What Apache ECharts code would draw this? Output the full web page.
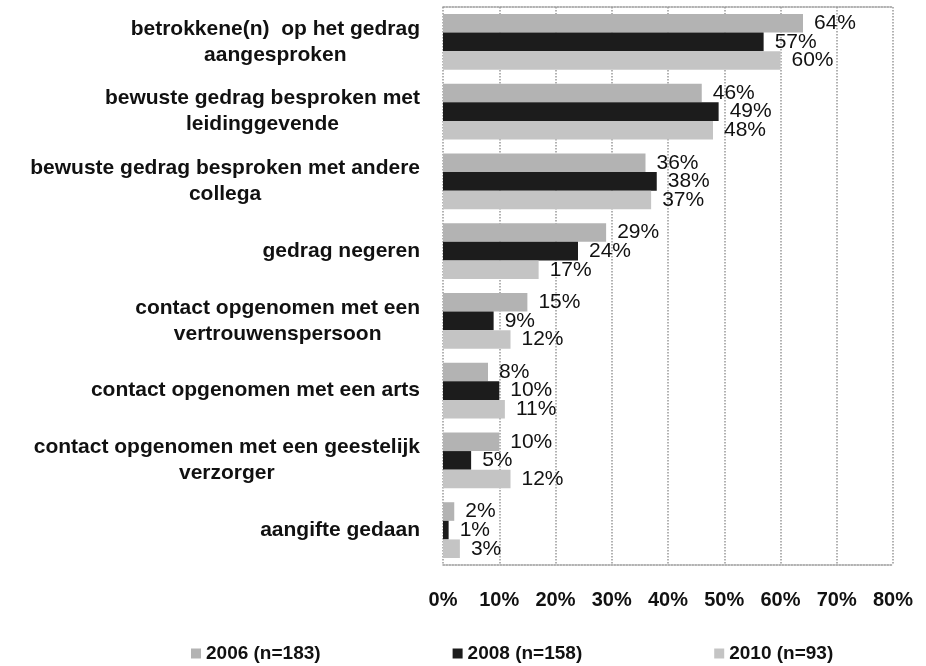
<!DOCTYPE html>
<html lang="nl" style="height: 100%">
<head>
    <meta charset="UTF-8">
    <title>Reactie op ongewenst gedrag</title>
    <script src="https://cdn.jsdelivr.net/npm/echarts@6/dist/echarts.min.js"></script>
</head>
<body style="height: 100%; margin: 0">
<div id="main" style="width: 926px; height: 666px"></div>
<script>
    var categories = [
        'betrokkene(n)  op het gedrag\naangesproken',
        'bewuste gedrag besproken met\nleidinggevende',
        'bewuste gedrag besproken met andere\ncollega',
        'gedrag negeren',
        'contact opgenomen met een\nvertrouwenspersoon',
        'contact opgenomen met een arts',
        'contact opgenomen met een geestelijk\nverzorger',
        'aangifte gedaan'
    ];
    var seriesNames = ['2006 (n=183)', '2008 (n=158)', '2010 (n=93)'];
    var values2006 = [64, 46, 36, 29, 15, 8, 10, 2];
    var values2008 = [57, 49, 38, 24, 9, 10, 5, 1];
    var values2010 = [60, 48, 37, 17, 12, 11, 12, 3];
    var colors = ['#b3b3b3', '#1c1c1c', '#c4c4c4'];

    var font = 'Liberation Sans, Arial, sans-serif';

    function makeSeries(name, data, color) {
        return {
            name: name,
            type: 'bar',
            data: data,
            barGap: '0%',
            barCategoryGap: '20%',
            itemStyle: {color: color},
            label: {
                show: true,
                position: 'right',
                distance: 11,
                formatter: '{c}%',
                color: '#111',
                fontSize: 21,
                fontFamily: font
            }
        };
    }

    var gridLine = {lineStyle: {color: '#999', type: 'dotted', width: 1.5}};

    var option = {
        animation: false,
        backgroundColor: '#fff',
        grid: {left: 443, right: 33, top: 7, bottom: 101},
        legend: {
            data: seriesNames,
            left: 186,
            top: 639,
            icon: 'rect',
            itemWidth: 10,
            itemHeight: 10,
            itemGap: 132,
            textStyle: {fontSize: 19, fontWeight: 'bold', color: '#111', fontFamily: font}
        },
        xAxis: [{
            type: 'value',
            min: 0,
            max: 80,
            interval: 10,
            axisLine: {show: true, lineStyle: gridLine.lineStyle},
            axisTick: {show: false},
            splitLine: gridLine,
            axisLabel: {
                formatter: '{value}%',
                margin: 25,
                fontSize: 20,
                fontWeight: 'bold',
                color: '#111',
                fontFamily: font
            }
        }, {
            type: 'value',
            position: 'top',
            min: 0,
            max: 80,
            interval: 10,
            axisLine: {show: true, lineStyle: gridLine.lineStyle},
            axisTick: {show: false},
            axisLabel: {show: false},
            splitLine: {show: false}
        }],
        yAxis: {
            type: 'category',
            inverse: true,
            data: categories,
            axisLine: {show: false},
            axisTick: {show: false},
            axisLabel: {
                margin: 23,
                formatter: function (value) {
                    return value.split('\n').map(function (l) {
                        return '{c|' + l + '}';
                    }).join('\n');
                },
                rich: {
                    c: {
                        align: 'center',
                        fontSize: 21,
                        fontWeight: 'bold',
                        lineHeight: 26,
                        color: '#111',
                        fontFamily: font
                    }
                }
            }
        },
        series: [
            makeSeries(seriesNames[0], values2006, colors[0]),
            makeSeries(seriesNames[1], values2008, colors[1]),
            makeSeries(seriesNames[2], values2010, colors[2])
        ]
    };

    var myChart = echarts.init(document.getElementById('main'));
    myChart.setOption(option);
</script>
</body>
</html>
